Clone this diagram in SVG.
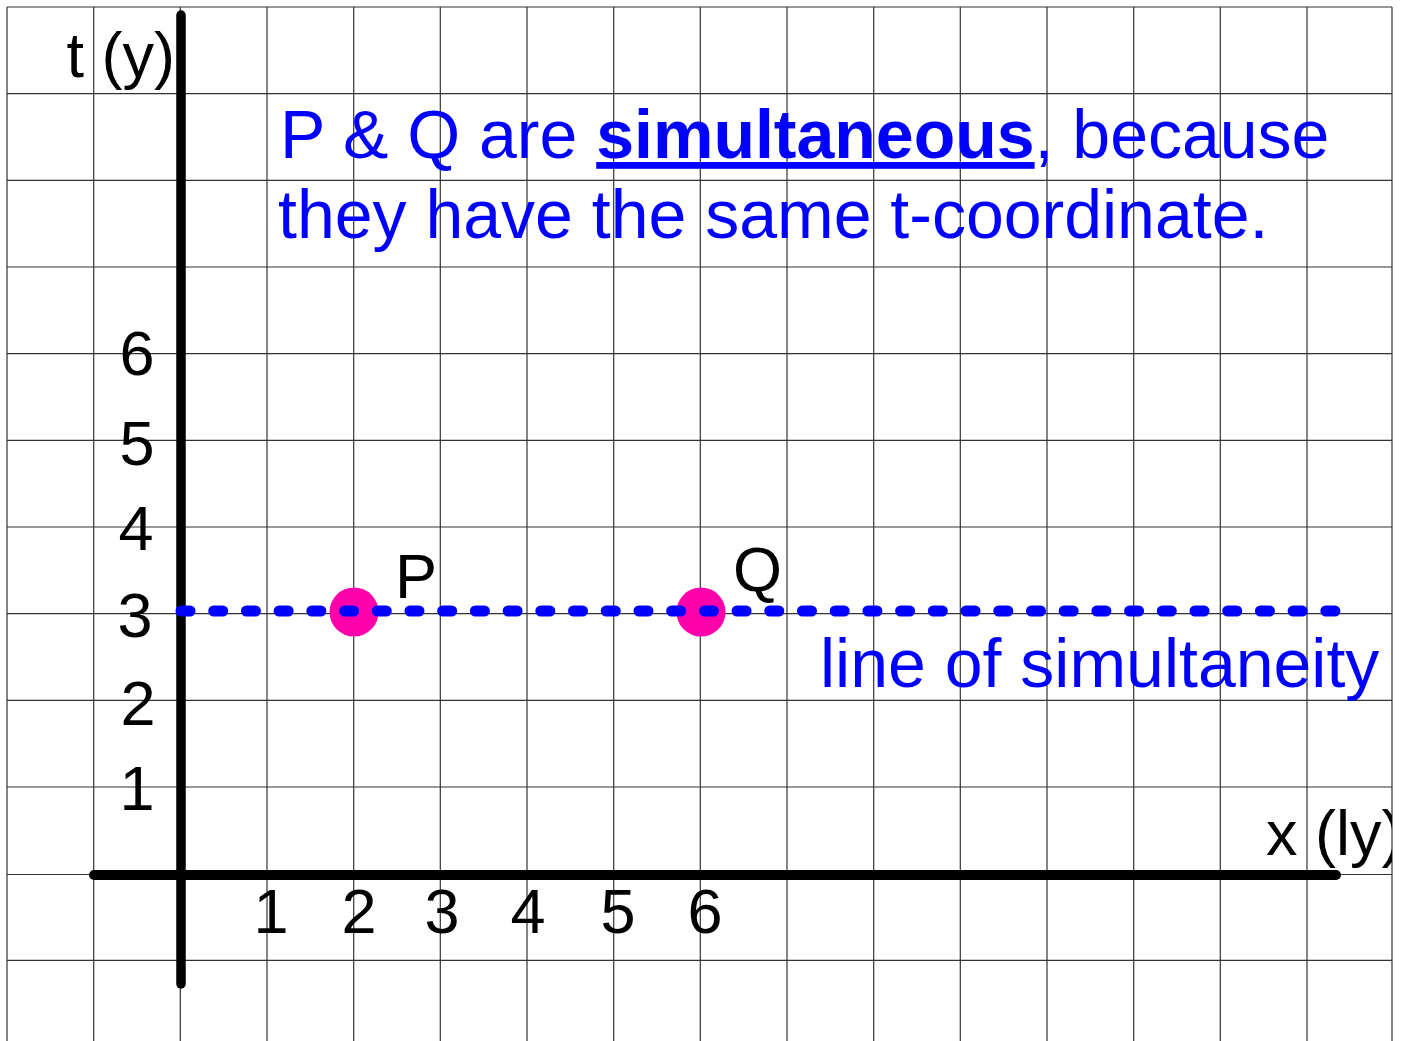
<svg xmlns="http://www.w3.org/2000/svg" width="1403" height="1041" viewBox="0 0 1403 1041">
<style>
.grid line{stroke:#333;stroke-width:1.2}
.axis{stroke:#000;stroke-linecap:round;fill:none}
.lbl{font-family:"Liberation Sans",Arial,sans-serif;font-size:63px;fill:#000}
.num{text-anchor:middle}
.blue{font-family:"Liberation Sans",Arial,sans-serif;font-size:68px;fill:#0000ff}
.pt{fill:#ff00aa}
</style>
<defs>
<clipPath id="clipR"><rect x="0" y="0" width="1392" height="1041"/></clipPath>
</defs>
<rect width="1403" height="1041" fill="#fff"/>
<g id="grid" class="grid">
<line x1="7" y1="7" x2="7" y2="1041"/>
<line x1="93.7" y1="7" x2="93.7" y2="1041"/>
<line x1="180.3" y1="7" x2="180.3" y2="1041"/>
<line x1="267" y1="7" x2="267" y2="1041"/>
<line x1="353.7" y1="7" x2="353.7" y2="1041"/>
<line x1="440.3" y1="7" x2="440.3" y2="1041"/>
<line x1="527" y1="7" x2="527" y2="1041"/>
<line x1="613.7" y1="7" x2="613.7" y2="1041"/>
<line x1="700.3" y1="7" x2="700.3" y2="1041"/>
<line x1="787" y1="7" x2="787" y2="1041"/>
<line x1="873.7" y1="7" x2="873.7" y2="1041"/>
<line x1="960.3" y1="7" x2="960.3" y2="1041"/>
<line x1="1047" y1="7" x2="1047" y2="1041"/>
<line x1="1133.7" y1="7" x2="1133.7" y2="1041"/>
<line x1="1220.3" y1="7" x2="1220.3" y2="1041"/>
<line x1="1307" y1="7" x2="1307" y2="1041"/>
<line x1="1392" y1="7" x2="1392" y2="1041"/>
<line x1="7" y1="7" x2="1392" y2="7"/>
<line x1="7" y1="93.7" x2="1392" y2="93.7"/>
<line x1="7" y1="180.3" x2="1392" y2="180.3"/>
<line x1="7" y1="267" x2="1392" y2="267"/>
<line x1="7" y1="353.7" x2="1392" y2="353.7"/>
<line x1="7" y1="440.3" x2="1392" y2="440.3"/>
<line x1="7" y1="527" x2="1392" y2="527"/>
<line x1="7" y1="613.7" x2="1392" y2="613.7"/>
<line x1="7" y1="700.3" x2="1392" y2="700.3"/>
<line x1="7" y1="787" x2="1392" y2="787"/>
<line x1="7" y1="874.5" x2="1392" y2="874.5"/>
<line x1="7" y1="960.3" x2="1392" y2="960.3"/>
</g>
<g id="axes">
<line class="axis" x1="181" y1="15" x2="181" y2="984" stroke-width="9.5"/>
<line class="axis" x1="94" y1="875" x2="1336" y2="875" stroke-width="10"/>
</g>
<g id="axis-labels">
<text class="lbl" x="175" y="77" text-anchor="end">t (y)</text>
<text class="lbl" x="1266" y="855" clip-path="url(#clipR)">x (ly)</text>
<text class="lbl num" x="137" y="375">6</text>
<text class="lbl num" x="137" y="465">5</text>
<text class="lbl num" x="136" y="550">4</text>
<text class="lbl num" x="135" y="637">3</text>
<text class="lbl num" x="138" y="725">2</text>
<text class="lbl num" x="137" y="810">1</text>
<text class="lbl num" x="271" y="933">1</text>
<text class="lbl num" x="359" y="933">2</text>
<text class="lbl num" x="442" y="933">3</text>
<text class="lbl num" x="528" y="933">4</text>
<text class="lbl num" x="618" y="933">5</text>
<text class="lbl num" x="705" y="933">6</text>
</g>
<g id="caption">
<text class="blue" x="280" y="158">P &amp; Q are <tspan font-weight="bold" text-decoration="underline">simultaneous</tspan>, because</text>
<text class="blue" x="278" y="238">they have the same t-coordinate.</text>
</g>
<g id="node-P">
<circle class="pt" cx="354" cy="612" r="24.5"/>
<text class="lbl" x="395" y="598">P</text>
</g>
<g id="node-Q">
<circle class="pt" cx="701" cy="612" r="24.5"/>
<text class="lbl" x="733" y="591">Q</text>
</g>
<g id="connectors">
<path d="M181 611 H1335" stroke="#0000ff" stroke-width="11" stroke-linecap="round" stroke-dasharray="9 23.71" fill="none"/>
<text class="blue" x="820" y="687">line of simultaneity</text>
</g>
</svg>
